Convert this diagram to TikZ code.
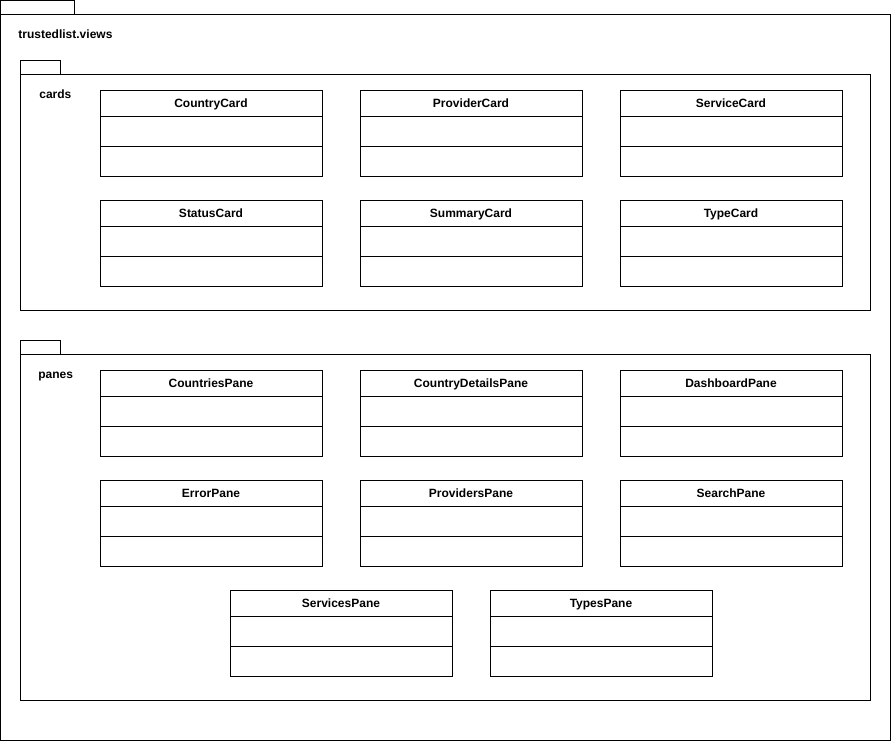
\documentclass[tikz,border=0pt]{standalone}
\usepackage{fontspec}
\setmainfont{Liberation Sans}
\begin{document}
\begin{tikzpicture}[x=1pt,y=-1pt,line width=0.8pt,
  pkg/.style={draw=black,fill=white},
  lbl/.style={font=\fontsize{12}{14}\selectfont\bfseries,anchor=base west,inner sep=0pt},
  cname/.style={font=\fontsize{12}{14}\selectfont\bfseries,anchor=base,inner sep=0pt}]
\useasboundingbox (0,0) rectangle (891,741);
% outer package
\draw[pkg] (0.5,0.5) rectangle (74,14);
\draw[pkg] (0.5,14) rectangle (890,740);
\node[lbl] (title) at (18,38.3) {trustedlist.views};
% cards package
\draw[pkg] (20,60) rectangle (60,74);
\draw[pkg] (20,74) rectangle (870,310);
\node[lbl] (cards) at (39,98.3) {cards};
% panes package
\draw[pkg] (20,340) rectangle (60,354);
\draw[pkg] (20,354) rectangle (870,700);
\node[lbl] (panes) at (38,378.3) {panes};
% classes
\newcommand{\umlclass}[4]{%
  \draw[pkg] (#1,#2) rectangle ++(222,86);
  \draw (#1,#2+26) -- ++(222,0);
  \draw (#1,#2+56) -- ++(222,0);
  \node[cname] (#4) at (#1+111,#2+17.5) {#3};
}
\umlclass{100}{90}{CountryCard}{c1}
\umlclass{360}{90}{ProviderCard}{c2}
\umlclass{620}{90}{ServiceCard}{c3}
\umlclass{100}{200}{StatusCard}{c4}
\umlclass{360}{200}{SummaryCard}{c5}
\umlclass{620}{200}{TypeCard}{c6}
\umlclass{100}{370}{CountriesPane}{p1}
\umlclass{360}{370}{CountryDetailsPane}{p2}
\umlclass{620}{370}{DashboardPane}{p3}
\umlclass{100}{480}{ErrorPane}{p4}
\umlclass{360}{480}{ProvidersPane}{p5}
\umlclass{620}{480}{SearchPane}{p6}
\umlclass{230}{590}{ServicesPane}{p7}
\umlclass{490}{590}{TypesPane}{p8}
\end{tikzpicture}
\end{document}
